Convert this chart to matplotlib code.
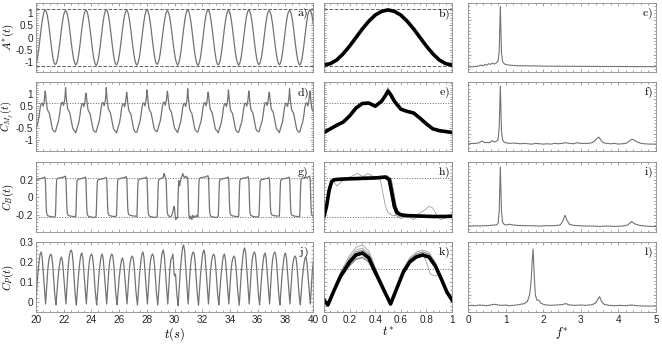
import numpy as np
import matplotlib
matplotlib.use("Agg")
import matplotlib.pyplot as plt
from matplotlib.ticker import AutoMinorLocator, FuncFormatter

plt.rcParams['font.family'] = ['Liberation Sans', 'DejaVu Sans']
plt.rcParams['mathtext.fontset'] = 'cm'

# --- cycle timing ---
cycle_period = 1.47
first_cycle = 19.93
n_cycles = 14

# A*(t): phase averaged shape and per-cycle amplitude
A_phase = [0.0, 0.05, 0.1, 0.15, 0.2, 0.25, 0.3, 0.35, 0.4, 0.45,
           0.5, 0.55, 0.6, 0.65, 0.7, 0.75, 0.8, 0.85, 0.9, 0.95]
A_shape = [-1.12, -1.06, -0.91, -0.66, -0.35, 0.0, 0.35, 0.66, 0.91, 1.06,
           1.12, 1.06, 0.91, 0.66, 0.35, 0.0, -0.35, -0.66, -0.91, -1.06]
A_amp = [1.0, 0.98, 1.0, 1.01, 0.99, 1.0, 0.97, 1.0, 1.01, 0.99, 1.0, 0.98, 0.99, 1.0]
A_level = 1.14

# C_Mf(t)
CM_phase = [0.0, 0.05, 0.1, 0.15, 0.2, 0.25, 0.3, 0.35, 0.4, 0.45, 0.48,
            0.5, 0.52, 0.55, 0.6, 0.65, 0.7, 0.75, 0.8, 0.85, 0.9, 0.95]
CM_shape = [-0.68, -0.52, -0.36, -0.22, 0.05, 0.4, 0.6, 0.62, 0.48, 0.7, 0.95,
            1.15, 1.0, 0.7, 0.35, 0.25, 0.18, -0.05, -0.3, -0.52, -0.6, -0.64]
CM_peak = [1.15, 1.3, 1.05, 1.3, 1.1, 1.2, 1.15, 1.25, 1.1, 1.2, 1.15, 1.1, 1.25, 1.15]
CM_shift = [0.0, 0.03, -0.02, 0.02, -0.03, 0.01, 0.04, -0.01, 0.02, -0.02, 0.0, 0.03, -0.01, 0.01]
CM_level = 0.6

# C_B(t)
CB_phase = [0.0, 0.02, 0.04, 0.06, 0.08, 0.12, 0.2, 0.3, 0.4, 0.48,
            0.51, 0.53, 0.55, 0.57, 0.6, 0.65, 0.75, 0.85, 0.95]
CB_shape = [-0.21, -0.1, 0.08, 0.18, 0.2, 0.205, 0.21, 0.215, 0.22, 0.23,
            0.2, 0.05, -0.1, -0.17, -0.195, -0.205, -0.21, -0.215, -0.215]
CB_high = [0.0, 0.01, 0.0, -0.005, 0.005, 0.0, 0.0, 0.0, 0.015, 0.0, 0.005, -0.005, 0.0, 0.01]
CB_low = [-0.005, 0.0, -0.01, 0.0, 0.005, -0.01, 0.0, 0.0, -0.01, 0.0, -0.005, 0.005, 0.0, -0.005]
CB_delay = [0.0, 0.01, -0.01, 0.015, 0.0, -0.005, 0.0, 0.0, 0.015, 0.005, -0.01, 0.01, 0.0, 0.005]
CB_c6_phase = [0.0, 0.02, 0.04, 0.06, 0.08, 0.15, 0.25, 0.3, 0.34, 0.37, 0.4, 0.44,
               0.46, 0.48, 0.5, 0.53, 0.58, 0.65, 0.72, 0.78, 0.82, 0.85, 0.88, 0.91, 0.95]
CB_c6 = [-0.21, -0.1, 0.08, 0.18, 0.2, 0.21, 0.22, 0.23, 0.27, 0.25, 0.22, 0.2,
         0.05, -0.1, -0.17, -0.2, -0.21, -0.22, -0.2, -0.15, -0.1, -0.12, -0.2, -0.25, -0.23]
CB_c7_phase = [0.0, 0.02, 0.04, 0.06, 0.08, 0.1, 0.13, 0.17, 0.22, 0.26, 0.3, 0.35, 0.4,
               0.45, 0.5, 0.52, 0.54, 0.56, 0.6, 0.65, 0.7, 0.75, 0.8, 0.85, 0.9, 0.95]
CB_c7 = [-0.23, -0.05, 0.1, 0.19, 0.17, 0.13, 0.17, 0.22, 0.24, 0.27, 0.24, 0.22, 0.24,
         0.23, 0.22, 0.1, -0.1, -0.2, -0.24, -0.21, -0.25, -0.2, -0.23, -0.21, -0.22, -0.2]
CB_level = 0.22

# C_P(t)
CP_phase = [0.0, 0.03, 0.08, 0.13, 0.2, 0.25, 0.3, 0.35, 0.4, 0.46,
            0.52, 0.57, 0.62, 0.67, 0.72, 0.77, 0.82, 0.87, 0.92, 0.96]
CP_shape = [0.01, -0.015, 0.06, 0.13, 0.2, 0.235, 0.245, 0.22, 0.15, 0.07,
            -0.01, 0.07, 0.15, 0.2, 0.225, 0.235, 0.225, 0.18, 0.11, 0.05]
CP_hump1 = [0.25, 0.225, 0.245, 0.24, 0.22, 0.25, 0.26, 0.285, 0.26, 0.24, 0.27, 0.245, 0.245, 0.225]
CP_hump2 = [0.24, 0.26, 0.24, 0.24, 0.23, 0.24, 0.25, 0.25, 0.24, 0.23, 0.25, 0.25, 0.23, 0.24]
CP_c6_tail_phase = [0.72, 0.77, 0.8, 0.83, 0.87, 0.9, 0.94, 0.97]
CP_c6_tail = [0.22, 0.24, 0.2, 0.14, 0.13, 0.14, 0.08, 0.03]
CP_level = 0.165

# spectra (fraction of panel height)
f_c = [0.0, 0.1, 0.2, 0.3, 0.35, 0.4, 0.45, 0.5, 0.55, 0.6, 0.65, 0.7, 0.75, 0.8, 0.83, 0.86,
       0.89, 0.92, 0.96, 1.0, 1.1, 1.2, 1.35, 1.5, 1.75, 2.0, 2.5, 3.0, 3.5, 4.0, 4.5, 5.0]
S_c = [0.07, 0.075, 0.08, 0.09, 0.1, 0.09, 0.11, 0.1, 0.12, 0.11, 0.13, 0.115, 0.13, 0.16, 0.3, 0.95,
       0.28, 0.15, 0.12, 0.11, 0.1, 0.095, 0.09, 0.09, 0.088, 0.085, 0.083, 0.082, 0.08, 0.08, 0.078, 0.078]
f_f = [0.0, 0.1, 0.2, 0.3, 0.37, 0.45, 0.5, 0.55, 0.6, 0.65, 0.7, 0.75, 0.8, 0.83, 0.86, 0.89, 0.92,
       0.96, 1.0, 1.1, 1.2, 1.3, 1.4, 1.5, 1.6, 1.7, 1.8, 1.9, 2.0, 2.1, 2.2, 2.3, 2.4, 2.5, 2.6, 2.7,
       2.8, 2.9, 3.0, 3.1, 3.2, 3.3, 3.38, 3.44, 3.48, 3.53, 3.6, 3.7, 3.8, 3.9, 4.0, 4.1, 4.2, 4.28,
       4.35, 4.42, 4.5, 4.6, 4.7, 4.8, 4.9, 5.0]
S_f = [0.1, 0.11, 0.11, 0.12, 0.145, 0.12, 0.125, 0.12, 0.13, 0.15, 0.13, 0.14, 0.16, 0.35, 0.94, 0.3,
       0.16, 0.13, 0.12, 0.11, 0.115, 0.11, 0.105, 0.11, 0.105, 0.1, 0.11, 0.105, 0.1, 0.105, 0.1, 0.11,
       0.105, 0.11, 0.12, 0.11, 0.105, 0.12, 0.11, 0.11, 0.11, 0.12, 0.15, 0.19, 0.2, 0.16, 0.12, 0.11,
       0.105, 0.11, 0.1, 0.105, 0.11, 0.14, 0.17, 0.16, 0.13, 0.11, 0.105, 0.1, 0.1, 0.1]
f_i = [0.0, 0.1, 0.2, 0.3, 0.4, 0.5, 0.6, 0.7, 0.75, 0.8, 0.83, 0.86, 0.89, 0.92, 0.96, 1.0, 1.1,
       1.2, 1.3, 1.5, 1.7, 1.9, 2.1, 2.3, 2.45, 2.52, 2.58, 2.63, 2.7, 2.8, 2.95, 3.1, 3.3, 3.5, 3.7,
       3.9, 4.1, 4.25, 4.35, 4.42, 4.55, 4.7, 4.85, 5.0]
S_i = [0.08, 0.085, 0.09, 0.085, 0.09, 0.09, 0.095, 0.1, 0.1, 0.12, 0.3, 0.93, 0.3, 0.14, 0.11, 0.1,
       0.11, 0.1, 0.095, 0.09, 0.09, 0.085, 0.09, 0.09, 0.1, 0.15, 0.24, 0.17, 0.11, 0.095, 0.09, 0.085,
       0.085, 0.08, 0.085, 0.08, 0.085, 0.1, 0.15, 0.12, 0.095, 0.085, 0.08, 0.08]
f_l = [0.0, 0.1, 0.2, 0.3, 0.4, 0.5, 0.6, 0.7, 0.8, 0.9, 1.0, 1.1, 1.2, 1.3, 1.4, 1.5, 1.58, 1.64,
       1.68, 1.71, 1.73, 1.76, 1.79, 1.83, 1.88, 1.93, 2.0, 2.1, 2.2, 2.35, 2.5, 2.6, 2.7, 2.85, 3.0,
       3.15, 3.3, 3.4, 3.46, 3.5, 3.55, 3.62, 3.75, 3.9, 4.05, 4.2, 4.35, 4.5, 4.65, 4.8, 5.0]
S_l = [0.09, 0.095, 0.09, 0.1, 0.095, 0.09, 0.1, 0.11, 0.1, 0.095, 0.1, 0.09, 0.095, 0.1, 0.11, 0.12,
       0.15, 0.25, 0.45, 0.75, 0.9, 0.55, 0.25, 0.17, 0.17, 0.13, 0.11, 0.1, 0.095, 0.1, 0.105, 0.12,
       0.1, 0.095, 0.1, 0.095, 0.105, 0.13, 0.19, 0.22, 0.15, 0.11, 0.095, 0.09, 0.095, 0.09, 0.1,
       0.09, 0.085, 0.085, 0.085]


def build_cycles(name):
    cycles = []
    for k in range(n_cycles):
        if name == 'A':
            ph = list(A_phase)
            v = [a * A_amp[k] for a in A_shape]
        elif name == 'CM':
            ph = list(CM_phase)
            v = [a + CM_shift[k] for a in CM_shape]
            v[CM_phase.index(0.5)] = CM_peak[k]
        elif name == 'CB':
            if k == 6:
                ph, v = list(CB_c6_phase), list(CB_c6)
            elif k == 7:
                ph, v = list(CB_c7_phase), list(CB_c7)
            else:
                ph = [p + CB_delay[k] if 0.45 < p < 0.62 else p for p in CB_phase]
                v = [a + (CB_high[k] if a > 0 else CB_low[k]) for a in CB_shape]
        else:
            ph = list(CP_phase)
            v = []
            for p, a in zip(CP_phase, CP_shape):
                if 0.0 < p < 0.5:
                    v.append(a * CP_hump1[k] / 0.245)
                elif p > 0.52:
                    v.append(a * CP_hump2[k] / 0.235)
                else:
                    v.append(a)
            if k == 6:
                keep = [i for i, p in enumerate(ph) if p < 0.72]
                ph = [ph[i] for i in keep] + CP_c6_tail_phase
                v = [v[i] for i in keep] + CP_c6_tail
        cycles.append((ph, v))
    return cycles


def series(cycles):
    t, y = [], []
    for k, (ph, v) in enumerate(cycles):
        t += [first_cycle + cycle_period * (k + p) for p in ph]
        y += v
    return t, y


rows = [
    ('A', A_phase, A_shape, r'$A^{*}(t)$', (-1.4, 1.4), [-1, -0.5, 0, 0.5, 1], [-A_level, A_level], '--',
     f_c, S_c, 'abc'),
    ('CM', CM_phase, CM_shape, r'$C_{M_f}(t)$', (-1.5, 1.55), [-1, -0.5, 0, 0.5, 1], [CM_level], ':',
     f_f, S_f, 'def'),
    ('CB', CB_phase, CB_shape, r'$C_B(t)$', (-0.39, 0.4), [-0.2, 0, 0.2], [-CB_level, CB_level], ':',
     f_i, S_i, 'ghi'),
    ('CP', CP_phase, CP_shape, r'$C_P(t)$', (-0.05, 0.3), [0, 0.1, 0.2, 0.3], [CP_level], ':',
     f_l, S_l, 'jkl'),
]

W, H = 662, 344
cols = [(36, 277), (324, 128), (468, 188)]
row_px = [(3, 72), (82, 151), (162, 232), (242, 312)]
fmt = FuncFormatter(lambda v, p: ('%g' % v).replace('\u2212', '-'))

fig = plt.figure(figsize=(W / 100, H / 100), dpi=100)


def style(ax):
    for s in ax.spines.values():
        s.set_color('0.55')
        s.set_linewidth(0.6)
    ax.tick_params(which='both', direction='in', top=True, right=True, colors='0.5',
                   labelcolor='0.15', labelsize=7.2, width=0.5, pad=2)
    ax.tick_params(which='major', length=2.5)
    ax.tick_params(which='minor', length=1.3)
    ax.xaxis.set_minor_locator(AutoMinorLocator(4))
    ax.yaxis.set_minor_locator(AutoMinorLocator(5))


for r, (name, ph0, shape, ylab, ylim, yt, levels, ls, fs, sv, letters) in enumerate(rows):
    top, bot = row_px[r]
    axes = []
    for c, (x0, w) in enumerate(cols):
        ax = fig.add_axes([x0 / W, 1 - bot / H, w / W, (bot - top) / H])
        style(ax)
        axes.append(ax)
    cycles = build_cycles(name)
    t, y = series(cycles)

    ax = axes[0]
    ax.plot(t, y, color='0.45', lw=0.9)
    ax.set_xlim(20, 40)
    ax.set_xticks(range(20, 41, 2))
    ax.set_ylim(*ylim)
    ax.set_yticks(yt)
    ax.yaxis.set_major_formatter(fmt)
    ax.set_ylabel(ylab, fontsize=7.6 if name == 'CM' else 8)
    ax.yaxis.set_label_coords(-0.072, 0.5)

    ax = axes[1]
    for k, (ph, v) in enumerate(cycles):
        nxt = cycles[k + 1][1][0] if k + 1 < len(cycles) else v[0]
        ax.plot(list(ph) + [1.0], list(v) + [nxt], color='0.55', lw=0.5)
    ax.plot(list(ph0) + [1.0], list(shape) + [shape[0]], color='black', lw=2.6)
    ax.set_xlim(0, 1)
    ax.set_xticks([0, 0.2, 0.4, 0.6, 0.8, 1])
    ax.set_ylim(*ylim)
    ax.set_yticks(yt)
    ax.tick_params(labelleft=False)

    for a in axes[:2]:
        for lv in levels:
            a.axhline(lv, color='0.4', lw=0.7, ls=ls, zorder=0.5)

    ax = axes[2]
    ax.plot(fs, sv, color='0.45', lw=0.8)
    ax.set_xlim(0, 5)
    ax.set_ylim(0, 1)
    ax.set_xticks(range(0, 6))
    ax.xaxis.set_minor_locator(AutoMinorLocator(5))
    ax.set_yticks([0, 0.25, 0.5, 0.75, 1])
    ax.tick_params(labelleft=False)

    for a, letter in zip(axes, letters):
        a.text(0.985, 0.84, r'$\mathrm{%s)}$' % letter, transform=a.transAxes,
               ha='right', va='center', fontsize=8.5)
        a.xaxis.set_major_formatter(fmt)
        if r < 3:
            a.tick_params(labelbottom=False)

    if r == 3:
        axes[0].set_xlabel(r'$t(s)$', fontsize=9, labelpad=0)
        axes[1].set_xlabel(r'$t^{*}$', fontsize=9, labelpad=0)
        axes[2].set_xlabel(r'$f^{*}$', fontsize=9, labelpad=0)

fig.savefig('out.png', dpi=100)
